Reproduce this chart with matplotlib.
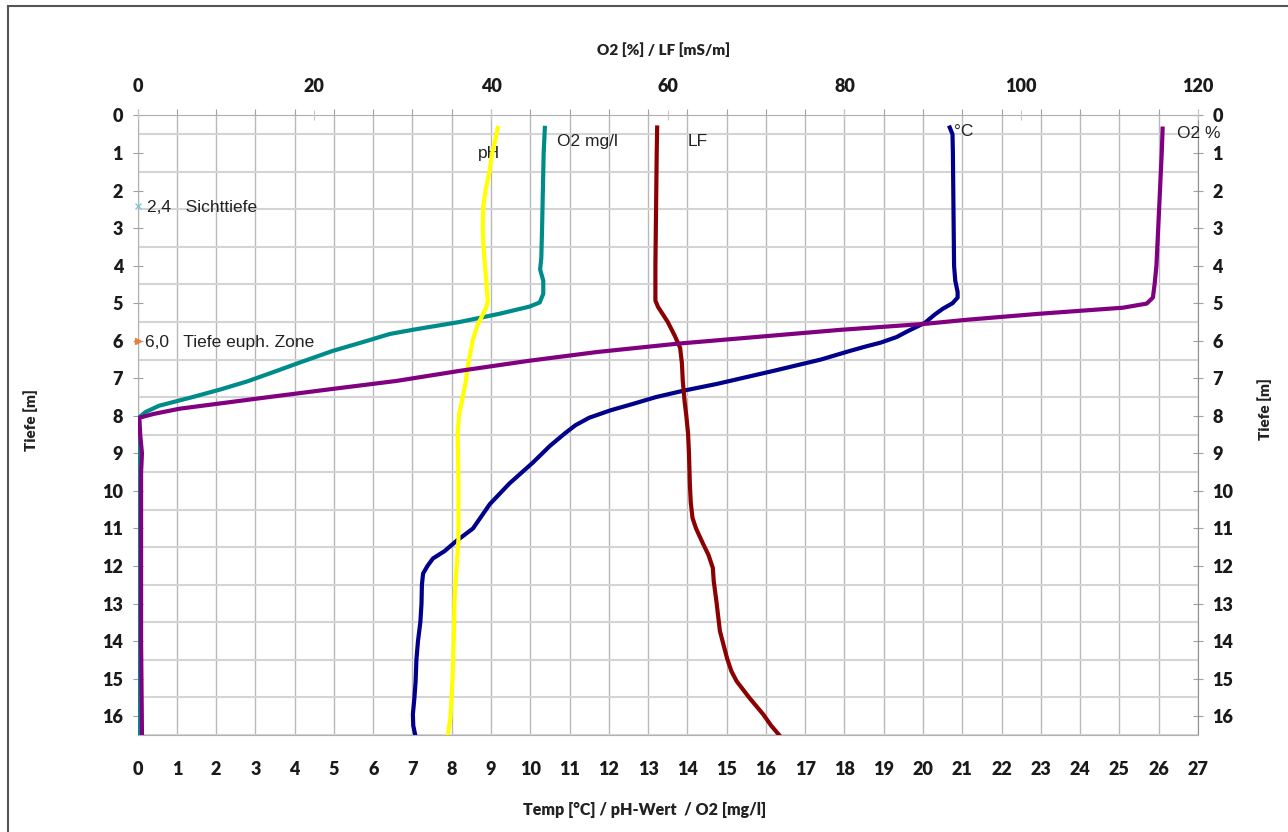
import matplotlib.pyplot as plt
import numpy as np
from matplotlib.patches import Rectangle

plt.rcParams['font.family'] = ['Lato', 'DejaVu Sans']
plt.rcParams['font.weight'] = 'heavy'

# bottom axis: Temp [°C], pH, O2 [mg/l]
temp_depth = [0.32, 0.5, 1, 2, 3, 4, 4.4, 4.7, 4.85, 5.0, 5.15, 5.3, 5.52, 5.75, 5.9, 6.05, 6.15, 6.27,
              6.5, 6.8, 7.15, 7.33, 7.5, 7.68, 7.85, 8.05, 8.25, 8.45, 8.8, 9.25, 9.8, 10.35, 11.0,
              11.33, 11.6, 11.8, 12.0, 12.2, 12.5, 13.0, 13.5, 14.0, 14.5, 15.07, 15.5, 15.95, 16.25, 16.5]
temp = [20.68, 20.75, 20.76, 20.77, 20.78, 20.79, 20.82, 20.88, 20.88, 20.75, 20.5, 20.3, 20.05,
        19.6, 19.33, 18.92, 18.55, 18.14, 17.4, 16.2, 14.75, 13.9, 13.2, 12.62, 12.05, 11.5, 11.15,
        10.9, 10.5, 10.06, 9.47, 8.97, 8.54, 8.12, 7.82, 7.52, 7.38, 7.27, 7.24, 7.23, 7.2, 7.14,
        7.1, 7.08, 7.05, 7.01, 7.02, 7.07]

ph_depth = [0.33, 0.6, 1.0, 1.55, 2.0, 2.45, 3.0, 3.33, 3.8, 4.3, 4.7, 4.93, 5.1, 5.28, 5.6, 6.0,
            6.19, 6.5, 6.88, 7.07, 7.5, 7.95, 8.48, 9.0, 9.8, 11.3, 12.4, 12.93, 14.0, 15.0, 16.0, 16.5]
ph = [9.17, 9.12, 9.03, 8.95, 8.86, 8.80, 8.79, 8.80, 8.83, 8.87, 8.9, 8.92, 8.88, 8.8, 8.65, 8.53,
      8.5, 8.44, 8.38, 8.36, 8.28, 8.19, 8.15, 8.16, 8.17, 8.17, 8.10, 8.07, 8.05, 8.02, 7.97, 7.9]

o2mg_depth = [0.33, 1, 2, 3, 3.8, 4.1, 4.4, 4.75, 4.98, 5.09, 5.28, 5.5, 5.7, 5.82, 6.0, 6.27, 6.58,
              6.8, 7.08, 7.3, 7.5, 7.73, 7.9, 8.05, 10, 13, 16.5]
o2mg = [10.37, 10.34, 10.32, 10.3, 10.28, 10.25, 10.33, 10.33, 10.24, 9.98, 9.22, 8.2, 7.05, 6.42,
        5.85, 4.97, 4.13, 3.55, 2.8, 2.1, 1.4, 0.55, 0.2, 0.03, 0.03, 0.03, 0.03]

# top axis: O2 [%], LF [mS/m]
o2pct_depth = [0.35, 1, 2, 3, 4, 4.48, 4.85, 5.01, 5.12, 5.28, 5.44, 5.55, 5.71, 5.9, 6.08, 6.3,
               6.53, 6.8, 7.07, 7.3, 7.52, 7.81, 7.95, 8.05, 8.5, 9.0, 9.5, 10, 12, 14, 16.5]
o2pct = [116.0, 115.9, 115.7, 115.5, 115.3, 115.1, 114.9, 114.2, 111.5, 102.1, 93.9, 89.1, 79.5,
         70, 61.0, 52, 44.4, 36.5, 29.3, 21.5, 14.2, 4.75, 1.8, 0.2, 0.3, 0.5, 0.4, 0.4, 0.4, 0.4, 0.5]

lf_depth = [0.32, 1, 2, 3, 4, 4.4, 4.93, 5.1, 5.28, 5.5, 5.87, 6.19, 6.6, 7.07, 7.6, 8.0, 8.48, 9.0,
            9.81, 10.3, 10.72, 11.0, 11.41, 11.7, 12.05, 12.4, 12.93, 13.73, 14.45, 14.8, 15.07,
            15.5, 15.95, 16.25, 16.5]
lf = [58.8, 58.75, 58.7, 58.65, 58.6, 58.6, 58.6, 58.9, 59.4, 60.0, 60.8, 61.4, 61.6, 61.7, 61.9,
      62.1, 62.3, 62.4, 62.5, 62.6, 62.8, 63.2, 64.0, 64.6, 65.1, 65.2, 65.5, 65.9, 66.7, 67.2,
      67.8, 69.2, 70.8, 71.7, 72.6]

sichttiefe = 2.4
euph_zone = 6.0

fig = plt.figure(figsize=(12.88, 8.32), dpi=100)
ax = fig.add_axes([0.1068, 0.1166, 0.8233, 0.7446])
ax2 = ax.twiny()

ax.plot(temp, temp_depth, color='#00008b', lw=3, zorder=3)
ax.plot(o2mg, o2mg_depth, color='#008b8b', lw=3, zorder=3)
ax.plot(ph, ph_depth, color='#ffff00', lw=3, zorder=4)
ax.plot(0, sichttiefe, marker='x', ms=4, mew=1, color='#7fc7d9', clip_on=False, zorder=5)
ax.plot(0, euph_zone, marker='>', ms=4, color='#e6803a', clip_on=False, zorder=5)
ax2.plot(lf, lf_depth, color='#8b0000', lw=3, zorder=3)
ax2.plot(o2pct, o2pct_depth, color='#800080', lw=3, zorder=4)

ax.set_xlim(0, 27)
ax.set_ylim(16.5, 0)
ax2.set_xlim(0, 120)

ax.set_xticks(range(0, 28))
ax.set_yticks(range(0, 17))
ax.set_yticks(np.arange(0.5, 16.6, 1), minor=True)
ax2.set_xticks(range(0, 121, 20))

ax.grid(axis='x', which='major', color='#b8b8b8', lw=1)
ax.grid(axis='y', which='minor', color='#d4d4d4', lw=1.5)
ax.set_axisbelow(True)

ax.tick_params(axis='x', which='major', bottom=False, top=True, labelbottom=True, labeltop=False,
               direction='out', length=4, color='#a0a0a0', pad=14.5, labelsize=13, labelcolor='#1a1a1a')
ax.tick_params(axis='y', which='minor', length=0)
ax.tick_params(axis='y', which='major', left=True, right=True, labelleft=True, labelright=True,
               direction='inout', length=7, color='#a0a0a0', pad=7, labelsize=13, labelcolor='#1a1a1a')
ax2.tick_params(axis='x', direction='inout', length=7, color='#c8c8c8', pad=11, labelsize=13,
                labelcolor='#1a1a1a')

for sp in ax.spines.values():
    sp.set_color('#b0b0b0')
ax.spines['right'].set_color('#909090')
for sp in ax2.spines.values():
    sp.set_visible(False)

txt = dict(family=['Liberation Sans', 'DejaVu Sans'], fontweight='normal', fontsize=12.5,
           color='#222222', va='center')
ax.text(9.22, 1.0, 'pH', ha='right', **txt)
ax.text(10.67, 0.69, 'O2 mg/l', ha='left', **txt)
ax.text(14.01, 0.69, 'LF', ha='left', **txt)
ax.text(20.8, 0.42, '°C', ha='left', **txt)
ax.text(26.46, 0.48, 'O2 %', ha='left', clip_on=False, **txt)
ax.text(0.23, sichttiefe + 0.05, '2,4   Sichttiefe', ha='left', **txt)
ax.text(0.2, euph_zone + 0.05, '6,0   Tiefe euph. Zone', ha='left', **txt)

fig.text(664 / 1288, 1 - 50 / 832, 'O2 [%] / LF [mS/m]', ha='center', va='center', fontsize=11,
         color='#222222')
fig.text(645 / 1288, 1 - 810 / 832, 'Temp [°C] / pH-Wert  / O2 [mg/l]', ha='center', va='center',
         fontsize=11.5, color='#222222')
fig.text(31 / 1288, 1 - 420 / 832, 'Tiefe [m]', rotation=90, ha='center', va='center', fontsize=11,
         color='#222222')
fig.text(1265 / 1288, 1 - 409 / 832, 'Tiefe [m]', rotation=90, ha='center', va='center', fontsize=11,
         color='#222222')

fig.patches.append(Rectangle((8 / 1288, -0.05), 1.1, 1 - 6 / 832 + 0.05, transform=fig.transFigure,
                             fill=False, edgecolor='#555555', lw=1.5))

fig.savefig('out.png', dpi=100)
